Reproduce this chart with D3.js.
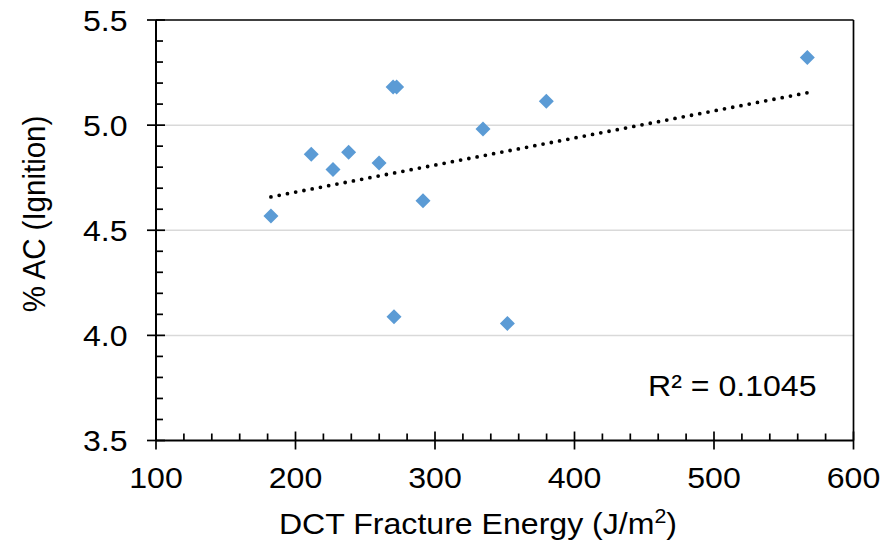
<!DOCTYPE html>
<html>
<head>
<meta charset="utf-8">
<script src="https://cdn.jsdelivr.net/npm/d3@7"></script>
<style>
  html, body { margin: 0; padding: 0; background: #fff; }
  svg { display: block; font-family: "Liberation Sans", Arial, sans-serif; }
</style>
</head>
<body>
<svg id="chart" width="885" height="546"></svg>
<script>
// ---- data ----
const fractureEnergy = [182.4, 211.3, 226.9, 238.1, 259.9, 270.0, 272.5, 291.4, 334.4, 379.8, 566.9, 270.6, 351.9];
const acIgnition     = [4.568, 4.862, 4.789, 4.871, 4.820, 5.181, 5.181, 4.640, 4.981, 5.113, 5.322, 4.089, 4.057];
const xTicks = [100, 200, 300, 400, 500, 600];
const yTicks = [3.5, 4.0, 4.5, 5.0, 5.5];
const xTitle = "DCT Fracture Energy (J/m";
const yTitle = "% AC (Ignition)";
const r2Label = "R² = 0.1045";

(function () {
const svg = d3.select("#chart");
const pL = 156, pR = 853.5, pT = 20, pB = 440.5;
const sx = 1.07; // horizontal stretch of the reference's text

const x = d3.scaleLinear().domain([100, 600]).range([pL, pR]);
const y = d3.scaleLinear().domain([3.5, 5.5]).range([pB, pT]);

// gridlines
svg.append("g").selectAll("line").data(yTicks.filter(v => v > 3.5 && v < 5.5)).join("line")
  .attr("x1", pL).attr("x2", pR)
  .attr("y1", d => y(d)).attr("y2", d => y(d))
  .attr("stroke", "#d9d9d9").attr("stroke-width", 1.5);

// frame top & right
svg.append("line").attr("x1", pL).attr("x2", pR).attr("y1", pT).attr("y2", pT)
  .attr("stroke", "#000").attr("stroke-width", 1.7);
svg.append("line").attr("x1", pR).attr("x2", pR).attr("y1", pT).attr("y2", pB)
  .attr("stroke", "#000").attr("stroke-width", 1.7);

// minor ticks
const xMinor = d3.range(100, 600.001, 20).filter(v => v % 100 !== 0);
const yMinor = d3.range(35, 55.001, 1).map(v => v / 10).filter(v => Math.round(v * 10) % 5 !== 0);

const xAxis = svg.append("g");
xAxis.selectAll("line.minor").data(xMinor).join("line").attr("class", "minor")
  .attr("x1", d => x(d)).attr("x2", d => x(d)).attr("y1", pB).attr("y2", pB - 7)
  .attr("stroke", "#000").attr("stroke-width", 1.7);
xAxis.selectAll("line.major").data(xTicks).join("line").attr("class", "major")
  .attr("x1", d => x(d)).attr("x2", d => x(d)).attr("y1", pB - 9).attr("y2", pB + 9)
  .attr("stroke", "#000").attr("stroke-width", 1.7);
xAxis.append("line").attr("x1", pL).attr("x2", pR).attr("y1", pB).attr("y2", pB)
  .attr("stroke", "#000").attr("stroke-width", 2);
xAxis.selectAll("text").data(xTicks).join("text")
  .attr("transform", d => `translate(${x(d)},488) scale(${sx},1)`)
  .attr("text-anchor", "middle").attr("font-size", 30).attr("fill", "#000")
  .text(d => d);

const yAxis = svg.append("g");
yAxis.selectAll("line.minor").data(yMinor).join("line").attr("class", "minor")
  .attr("x1", pL).attr("x2", pL + 7).attr("y1", d => y(d)).attr("y2", d => y(d))
  .attr("stroke", "#000").attr("stroke-width", 1.7);
yAxis.selectAll("line.major").data(yTicks).join("line").attr("class", "major")
  .attr("x1", pL - 9).attr("x2", pL + 9).attr("y1", d => y(d)).attr("y2", d => y(d))
  .attr("stroke", "#000").attr("stroke-width", 1.7);
yAxis.append("line").attr("x1", pL).attr("x2", pL).attr("y1", pT).attr("y2", pB)
  .attr("stroke", "#000").attr("stroke-width", 2);
yAxis.selectAll("text").data(yTicks).join("text")
  .attr("transform", d => `translate(127.5,${y(d) + 10.8}) scale(${sx},1)`)
  .attr("text-anchor", "end").attr("font-size", 30).attr("fill", "#000")
  .text(d => d.toFixed(1));

// trendline (least squares on the data)
const pts = fractureEnergy.map((v, i) => [v, acIgnition[i]]);
const mx = d3.mean(fractureEnergy), my = d3.mean(acIgnition);
const sxy = d3.sum(pts, p => (p[0] - mx) * (p[1] - my));
const sxx = d3.sum(pts, p => (p[0] - mx) ** 2);
const slope = sxy / sxx, intercept = my - slope * mx;
const [xmin, xmax] = d3.extent(fractureEnergy);
svg.append("line")
  .attr("x1", x(xmin)).attr("y1", y(intercept + slope * xmin))
  .attr("x2", x(xmax)).attr("y2", y(intercept + slope * xmax))
  .attr("stroke", "#000").attr("stroke-width", 3.8)
  .attr("stroke-linecap", "round").attr("stroke-dasharray", "0,8.4");

// markers
const s = 7.5;
svg.append("g").selectAll("path").data(pts).join("path")
  .attr("d", `M0,${-s}L${s},0L0,${s}L${-s},0Z`)
  .attr("transform", d => `translate(${x(d[0])},${y(d[1])})`)
  .attr("fill", "#5b9bd5");

// R² label
svg.append("text").attr("transform", `translate(648,395.5) scale(${sx},1)`)
  .attr("font-size", 30).attr("fill", "#000").text(r2Label);

// axis titles
const xt = svg.append("text").attr("transform", `translate(478,533.5) scale(${sx},1)`)
  .attr("text-anchor", "middle").attr("font-size", 30).attr("fill", "#000");
xt.append("tspan").text(xTitle);
xt.append("tspan").attr("font-size", 20).attr("dy", -11).text("2");
xt.append("tspan").attr("dy", 11).text(")");

svg.append("text")
  .attr("transform", `translate(44.5,214) rotate(-90) scale(1,${sx})`)
  .attr("text-anchor", "middle").attr("font-size", 29.5).attr("fill", "#000")
  .text(yTitle);
})();
</script>
</body>
</html>
